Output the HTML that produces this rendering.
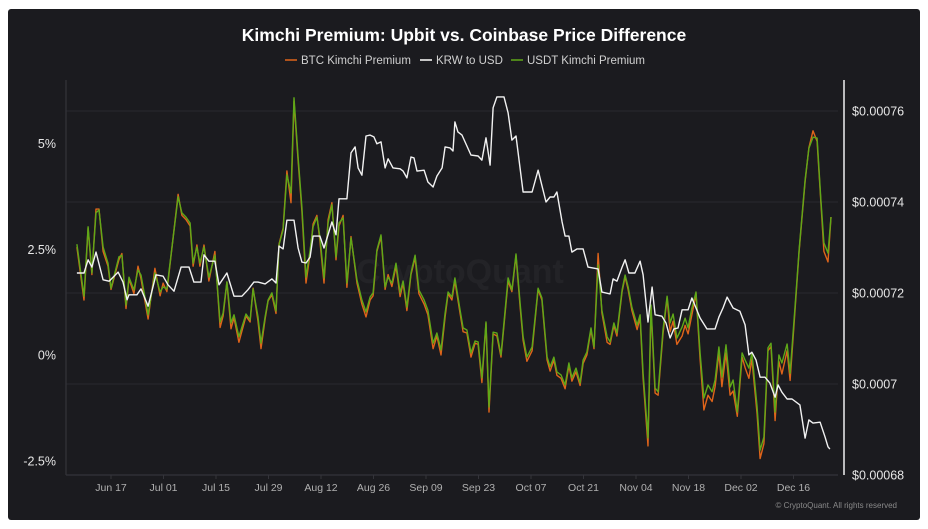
<!DOCTYPE html>
<html><head><meta charset="utf-8"><style>
html,body{margin:0;padding:0;background:#fff;}
body{width:928px;height:529px;overflow:hidden;font-family:"Liberation Sans",sans-serif;}
#panel{position:absolute;left:8px;top:9px;width:912px;height:511px;background:#1b1b1f;border-radius:3px;}
svg{position:absolute;left:0;top:0;}
</style></head><body>
<div id="panel"></div>
<svg id="chart" width="928" height="529">
<text x="464" y="41" text-anchor="middle" fill="#ffffff" font-size="17.5" font-weight="bold">Kimchi Premium: Upbit vs. Coinbase Price Difference</text>
<g font-size="11.5" fill="#d0d0d0">
<g><line x1="285" y1="60" x2="297" y2="60" stroke="#e0641a" stroke-width="1.5"/><text x="301" y="64">BTC Kimchi Premium</text></g>
<g><line x1="420" y1="60" x2="432" y2="60" stroke="#ffffff" stroke-width="1.5"/><text x="436" y="64">KRW to USD</text></g>
<g><line x1="511" y1="60" x2="523" y2="60" stroke="#5fa818" stroke-width="1.5"/><text x="527" y="64">USDT Kimchi Premium</text></g>
</g>
<text x="460" y="283" text-anchor="middle" fill="#ffffff" fill-opacity="0.04" font-size="34" font-weight="bold">CryptoQuant</text>
<g id="grid"></g><g id="axes"></g><g id="series"></g>
<text x="897" y="508" text-anchor="end" fill="#8a8a8a" font-size="8">© CryptoQuant. All rights reserved</text>
</svg>
<script>
const xTickDays=[0,14,28,42,56,70,84,98,112,126,140,154,168,182];
const xTickLabels=["Jun 17","Jul 01","Jul 15","Jul 29","Aug 12","Aug 26","Sep 09","Sep 23","Oct 07","Oct 21","Nov 04","Nov 18","Dec 02","Dec 16"];
const leftTicks=[-2.5,0,2.5,5];
const leftTickLabels=["-2.5%","0%","2.5%","5%"];
const rightTicks=[0.00068,0.0007,0.00072,0.00074,0.00076];
const rightTickLabels=["$0.00068","$0.0007","$0.00072","$0.00074","$0.00076"];
const premDays=[-9.1,-7.2,-6.1,-5.1,-4.0,-3.2,-2.1,-0.8,0,2.1,2.9,4.0,4.8,6.1,7.2,8.0,9.9,11.7,13.1,13.9,14.9,17.9,18.9,20.0,21.1,21.9,22.9,23.7,24.8,26.1,27.7,29.1,29.9,30.9,32.0,32.8,34.1,36.0,37.1,37.9,39.2,40.0,41.1,41.9,42.9,44.0,44.8,45.9,46.9,48.0,48.8,49.9,50.9,52.0,53.1,53.9,54.9,55.7,56.8,57.9,58.9,60.0,60.8,61.9,62.9,64.0,65.6,66.9,68.0,69.1,69.9,70.9,72.0,73.1,73.9,74.9,76.0,77.1,77.9,78.9,80.0,81.1,82.1,83.5,84.5,85.9,86.9,88.0,89.1,89.9,90.9,91.7,93.1,93.9,94.9,96.0,97.1,97.9,98.9,100.0,100.8,101.9,102.9,104.0,105.9,106.9,108.0,109.1,109.9,110.9,112.3,113.9,114.9,116.3,117.1,118.1,118.9,120.0,121.1,122.1,122.9,124.0,125.1,125.9,126.9,128.0,128.8,129.9,130.9,132.3,133.1,134.1,134.9,136.3,137.1,137.9,138.9,140.3,141.1,141.9,143.2,144.0,145.1,145.9,147.2,148.3,149.1,149.9,150.9,152.3,153.1,153.9,154.9,156.0,157.1,158.1,159.2,160.3,161.1,162.1,162.9,164.0,165.1,165.9,167.0,168.3,169.1,170.1,170.9,172.3,173.1,174.1,175.2,176.0,177.1,178.1,178.9,180.3,181.1,182.4,183.5,185.1,186.1,187.2,188.3,189.3,190.1,191.2,192.0];
const usdtPremium=[2.62,1.39,3.03,1.94,3.36,3.43,2.55,2.17,1.58,2.32,2.36,1.18,1.84,1.54,2.01,1.89,0.95,1.94,1.49,1.61,1.56,3.74,3.36,3.26,3.12,2.17,2.55,2.17,2.55,1.84,2.36,0.78,0.99,1.73,0.76,0.95,0.43,0.97,0.83,1.56,0.90,0.28,0.90,1.30,1.47,1.04,2.60,2.96,4.26,3.83,6.08,4.68,3.50,1.84,2.48,3.03,3.26,2.79,1.82,3.12,3.55,2.32,3.12,3.24,1.70,2.77,1.77,1.30,1.02,1.37,1.47,2.48,2.84,1.61,1.84,1.70,2.17,1.47,1.75,1.13,1.94,2.36,1.54,1.30,1.06,0.28,0.52,0.12,0.99,1.49,1.37,1.82,1.06,0.64,0.59,0.05,0.33,0.31,-0.54,0.78,-1.23,0.54,0.52,0.00,1.82,1.54,2.39,1.23,0.43,-0.05,0.19,1.58,1.35,-0.05,-0.28,-0.05,-0.40,-0.47,-0.71,-0.19,-0.54,-0.31,-0.66,-0.12,0.07,0.64,0.19,2.13,1.06,0.43,0.31,0.76,0.52,1.54,1.89,1.61,1.13,0.71,0.95,-0.43,-1.96,1.18,-0.78,-0.87,0.59,1.39,0.76,0.97,0.40,0.66,0.87,0.64,1.11,1.49,0.05,-1.02,-0.71,-0.87,-0.59,0.19,-0.52,0.24,-0.76,-0.59,-1.35,0.05,-0.12,-0.31,0.05,-1.23,-2.25,-1.94,0.17,0.28,-1.35,0.00,-0.19,0.26,-0.43,1.13,2.48,4.14,4.89,5.15,5.13,3.66,2.65,2.41,3.26];
const btcPremium=[2.55,1.30,3.00,1.90,3.45,3.45,2.45,2.10,1.55,2.25,2.40,1.10,1.80,1.45,2.10,1.80,0.85,2.05,1.40,1.70,1.50,3.80,3.30,3.20,3.05,2.10,2.60,2.10,2.60,1.75,2.45,0.65,0.92,1.72,0.62,0.88,0.30,0.92,0.78,1.58,0.80,0.15,0.85,1.28,1.42,0.98,2.62,3.00,4.35,3.60,6.00,4.60,3.40,1.70,2.40,3.10,3.30,2.70,1.70,3.20,3.60,2.25,3.05,3.30,1.60,2.80,1.70,1.20,0.90,1.30,1.40,2.45,2.80,1.55,1.90,1.62,2.10,1.38,1.70,1.05,1.90,2.30,1.45,1.20,0.95,0.15,0.45,0.00,0.90,1.45,1.30,1.75,0.98,0.55,0.52,-0.05,0.28,0.25,-0.65,0.75,-1.35,0.50,0.45,-0.05,1.75,1.50,2.35,1.15,0.35,-0.15,0.10,1.55,1.30,-0.12,-0.38,-0.12,-0.48,-0.55,-0.80,-0.25,-0.62,-0.40,-0.72,-0.20,0.00,0.60,0.15,2.40,1.00,0.30,0.25,0.70,0.45,1.50,1.85,1.55,1.05,0.60,0.88,-0.55,-2.15,1.10,-0.90,-0.95,0.50,1.35,0.55,0.80,0.25,0.45,0.70,0.50,0.95,1.45,-0.10,-1.30,-0.95,-1.10,-0.75,0.05,-0.75,0.05,-0.95,-0.85,-1.45,-0.05,-0.30,-0.55,-0.10,-1.40,-2.45,-2.10,0.10,0.20,-1.55,-0.15,-0.45,0.10,-0.60,1.05,2.45,4.10,4.90,5.30,5.05,3.60,2.45,2.20,3.26];
const krwDays=[-9.1,-7.2,-6.1,-5.1,-4.0,-2.1,-0.5,1.9,3.2,4.3,4.8,6.9,8.0,9.9,12.0,13.9,15.2,16.8,18.7,20.8,22.1,24.0,24.8,26.1,27.7,28.8,30.9,32.8,34.9,36.5,38.1,39.2,41.1,42.9,44.0,44.8,45.9,46.9,48.8,49.9,50.9,52.0,53.1,53.9,55.7,56.8,58.9,60.0,60.8,62.9,64.0,65.1,65.9,66.9,68.0,69.1,70.1,70.9,72.0,73.1,73.9,75.2,77.1,77.9,78.9,80.0,80.8,81.6,83.5,84.5,85.9,86.9,88.3,89.1,90.4,91.2,91.7,92.5,93.6,96.0,97.9,98.9,100.0,101.1,101.9,102.9,104.8,105.9,106.9,108.0,109.9,112.3,113.9,116.0,117.1,118.1,118.9,120.3,121.1,122.1,122.9,124.3,125.9,127.2,129.9,130.9,133.1,133.9,134.9,136.3,137.1,138.1,139.7,141.1,141.9,143.2,144.3,145.1,146.9,148.0,149.1,150.1,151.2,152.3,153.9,154.9,157.1,158.9,161.1,162.1,163.2,164.3,165.9,167.7,169.1,170.1,170.9,172.0,173.1,174.4,175.7,177.1,177.9,178.9,180.3,181.6,183.7,185.1,186.1,187.2,189.1,190.4,191.2,191.7];
const krwToUsd=[0.0007244,0.0007244,0.0007273,0.0007257,0.0007290,0.0007229,0.0007226,0.0007246,0.0007224,0.0007185,0.0007196,0.0007196,0.0007209,0.0007171,0.0007240,0.0007237,0.0007218,0.0007204,0.0007257,0.0007257,0.0007224,0.0007224,0.0007284,0.0007270,0.0007270,0.0007218,0.0007244,0.0007193,0.0007193,0.0007207,0.0007224,0.0007224,0.0007220,0.0007231,0.0007222,0.0007303,0.0007297,0.0007360,0.0007360,0.0007299,0.0007268,0.0007266,0.0007279,0.0007325,0.0007325,0.0007299,0.0007356,0.0007328,0.0007407,0.0007407,0.0007508,0.0007521,0.0007475,0.0007459,0.0007545,0.0007547,0.0007543,0.0007528,0.0007532,0.0007475,0.0007495,0.0007475,0.0007473,0.0007468,0.0007453,0.0007499,0.0007497,0.0007468,0.0007470,0.0007444,0.0007433,0.0007457,0.0007475,0.0007521,0.0007519,0.0007512,0.0007576,0.0007554,0.0007547,0.0007503,0.0007501,0.0007492,0.0007541,0.0007481,0.0007607,0.0007631,0.0007631,0.0007596,0.0007536,0.0007545,0.0007422,0.0007422,0.0007470,0.0007400,0.0007411,0.0007411,0.0007422,0.0007356,0.0007325,0.0007325,0.0007290,0.0007297,0.0007297,0.0007257,0.0007253,0.0007202,0.0007198,0.0007231,0.0007226,0.0007257,0.0007273,0.0007244,0.0007244,0.0007270,0.0007240,0.0007136,0.0007213,0.0007152,0.0007149,0.0007134,0.0007101,0.0007121,0.0007123,0.0007163,0.0007163,0.0007189,0.0007145,0.0007121,0.0007121,0.0007147,0.0007167,0.0007191,0.0007167,0.0007160,0.0007130,0.0007064,0.0007070,0.0007053,0.0007015,0.0007015,0.0007002,0.0006971,0.0006998,0.0006982,0.0006967,0.0006967,0.0006954,0.0006881,0.0006921,0.0006914,0.0006916,0.0006884,0.0006862,0.0006857];

const NS="http://www.w3.org/2000/svg";
const X0=66,X1=838,Y0=80,Y1=475;
const xOf=d=>111+d*3.75;
const yL=p=>355-p*42.3;
const yR=v=>475-(v-0.00068)/0.00002*91;
function mk(tag,attrs,parent){const e=document.createElementNS(NS,tag);for(const k in attrs)e.setAttribute(k,attrs[k]);parent.appendChild(e);return e;}
const grid=document.getElementById('grid'),axes=document.getElementById('axes'),series=document.getElementById('series');
rightTicks.forEach((v,i)=>{
  if(i>0){const g=mk('line',{x1:X0,x2:X1,y1:yR(v),y2:yR(v),stroke:'#2a2a2f','stroke-width':1},grid);
  
  }
  const t=mk('text',{x:852,y:yR(v)+4.5,fill:'#e6e6e6','font-size':12.5},axes);t.textContent=rightTickLabels[i];
  
  
});
leftTicks.forEach((p,i)=>{
  const t=mk('text',{x:56,y:yL(p)+4.5,fill:'#e6e6e6','font-size':12.5,'text-anchor':'end'},axes);t.textContent=leftTickLabels[i];
  
  
});
const la=mk('line',{x1:X0,x2:X0,y1:Y0,y2:Y1,stroke:'#34343a','stroke-width':1.2},axes);


const ba=mk('line',{x1:X0,x2:X1,y1:Y1,y2:Y1,stroke:'#34343a','stroke-width':1.2},axes);


const ra=mk('line',{x1:844,x2:844,y1:Y0,y2:Y1,stroke:'#f0f0f0','stroke-width':1.5},axes);


xTickDays.forEach((d,i)=>{
  mk('line',{x1:xOf(d),x2:xOf(d),y1:Y1,y2:Y1+4,stroke:'#34343a'},axes);
  const t=mk('text',{x:xOf(d),y:Y1+16,fill:'#b0b0b0','font-size':10.5,'text-anchor':'middle'},axes);t.textContent=xTickLabels[i];
  
  
});
function line(days,vals,yf,color,name,w){
  const pts=days.map((d,i)=>xOf(d).toFixed(1)+','+yf(vals[i]).toFixed(1)).join(' ');
  const p=mk('polyline',{points:pts,fill:'none',stroke:color,'stroke-width':w,'stroke-linejoin':'round'},series);
  
  
}
line(premDays,btcPremium,yL,'#e0641a','btc-kimchi-premium-line',1.4);
line(premDays,usdtPremium,yL,'#5fa818','usdt-kimchi-premium-line',1.4);
line(krwDays,krwToUsd,yR,'#f2f2f2','krw-to-usd-line',1.4);
</script>
</body></html>
